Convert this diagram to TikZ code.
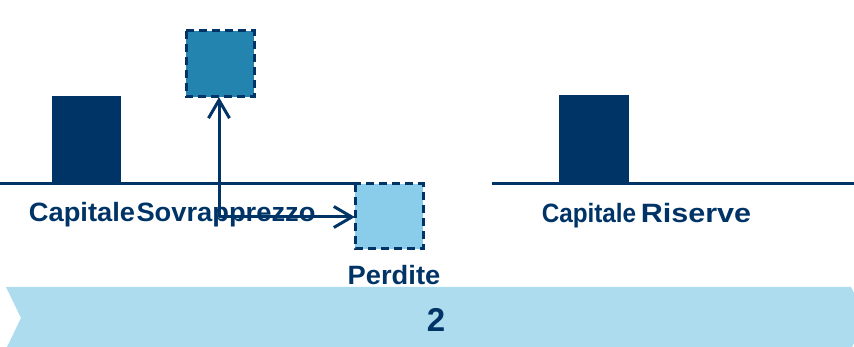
\documentclass[tikz,border=0pt]{standalone}
\usepackage{fontspec}
\setmainfont{Liberation Sans}
\newfontfamily\lblfont{Liberation Sans}[FakeStretch=1.03]
\usetikzlibrary{arrows.meta}
\definecolor{navy}{HTML}{003366}
\definecolor{teal}{HTML}{2385AF}
\definecolor{sky}{HTML}{8ACDEA}
\definecolor{band}{HTML}{ADDCEE}
\tikzset{
  axis/.style={draw=navy, line width=3pt},
  solidbar/.style={fill=navy, draw=none},
  dashbar/.style={draw=navy, line width=3pt, dash pattern=on 8pt off 5pt},
  flow/.style={draw=navy, line width=3pt, -{Straight Barb[length=18pt, width=21pt, line width=3pt]}},
  lbl/.style={text=navy, font=\lblfont\fontsize{26.5}{30}\selectfont\bfseries, anchor=base, inner sep=0pt},
  banner/.style={fill=band, draw=none}
}
\begin{document}
\begin{tikzpicture}[x=1pt, y=-1pt]
\useasboundingbox (0,0) rectangle (854,347);
\clip (0,0) rectangle (854,347);

% bottom chevron band
\path[banner] (6,287) -- (851,287) -- (867,318) -- (851,349) -- (6,349) -- (21,318) -- cycle;
\node[text=navy, font=\fontsize{33}{36}\selectfont\bfseries, inner sep=0pt] (step2) at (436,320) {2};

% left account: base line and bars
\path[solidbar] (52,96) rectangle (121,184);
\path[dashbar, fill=teal] (186,31) rectangle (254,97);
\path[dashbar, fill=sky] (355,184) rectangle (423,249);
\node[inner sep=0pt, minimum width=68pt, minimum height=66pt] (premium) at (220,64) {};
\node[inner sep=0pt, minimum width=68pt, minimum height=65pt] (loss) at (389,216.5) {};
\coordinate (leftend) at (0,184);
\draw[axis] (leftend) -- (leftend -| loss.west);

% right account: base line and bar
\path[solidbar] (559,95) rectangle (629,184);
\coordinate (rstart) at (492,184);
\coordinate (rend) at (854,184);
\draw[axis] (rstart) -- (rend);

% transfers
\coordinate (split) at (219,217);
\draw[flow] (split) -- (split |- premium.south);
\draw[flow] (split) -- (loss.west |- split);

% labels
\node[lbl] (capL) at (82,222) {Capitale};
\node[lbl] (sovr) at (226,222) {Sovrapprezzo};
\node[lbl] (perd) at (394,285) {Perdite};
\node[lbl] (capR) at (589,223) {\scalebox{0.89}[1]{Capitale}};
\node[lbl] (ris) at (696,223) {\scalebox{1.12}[1]{Riserve}};
\end{tikzpicture}
\end{document}
